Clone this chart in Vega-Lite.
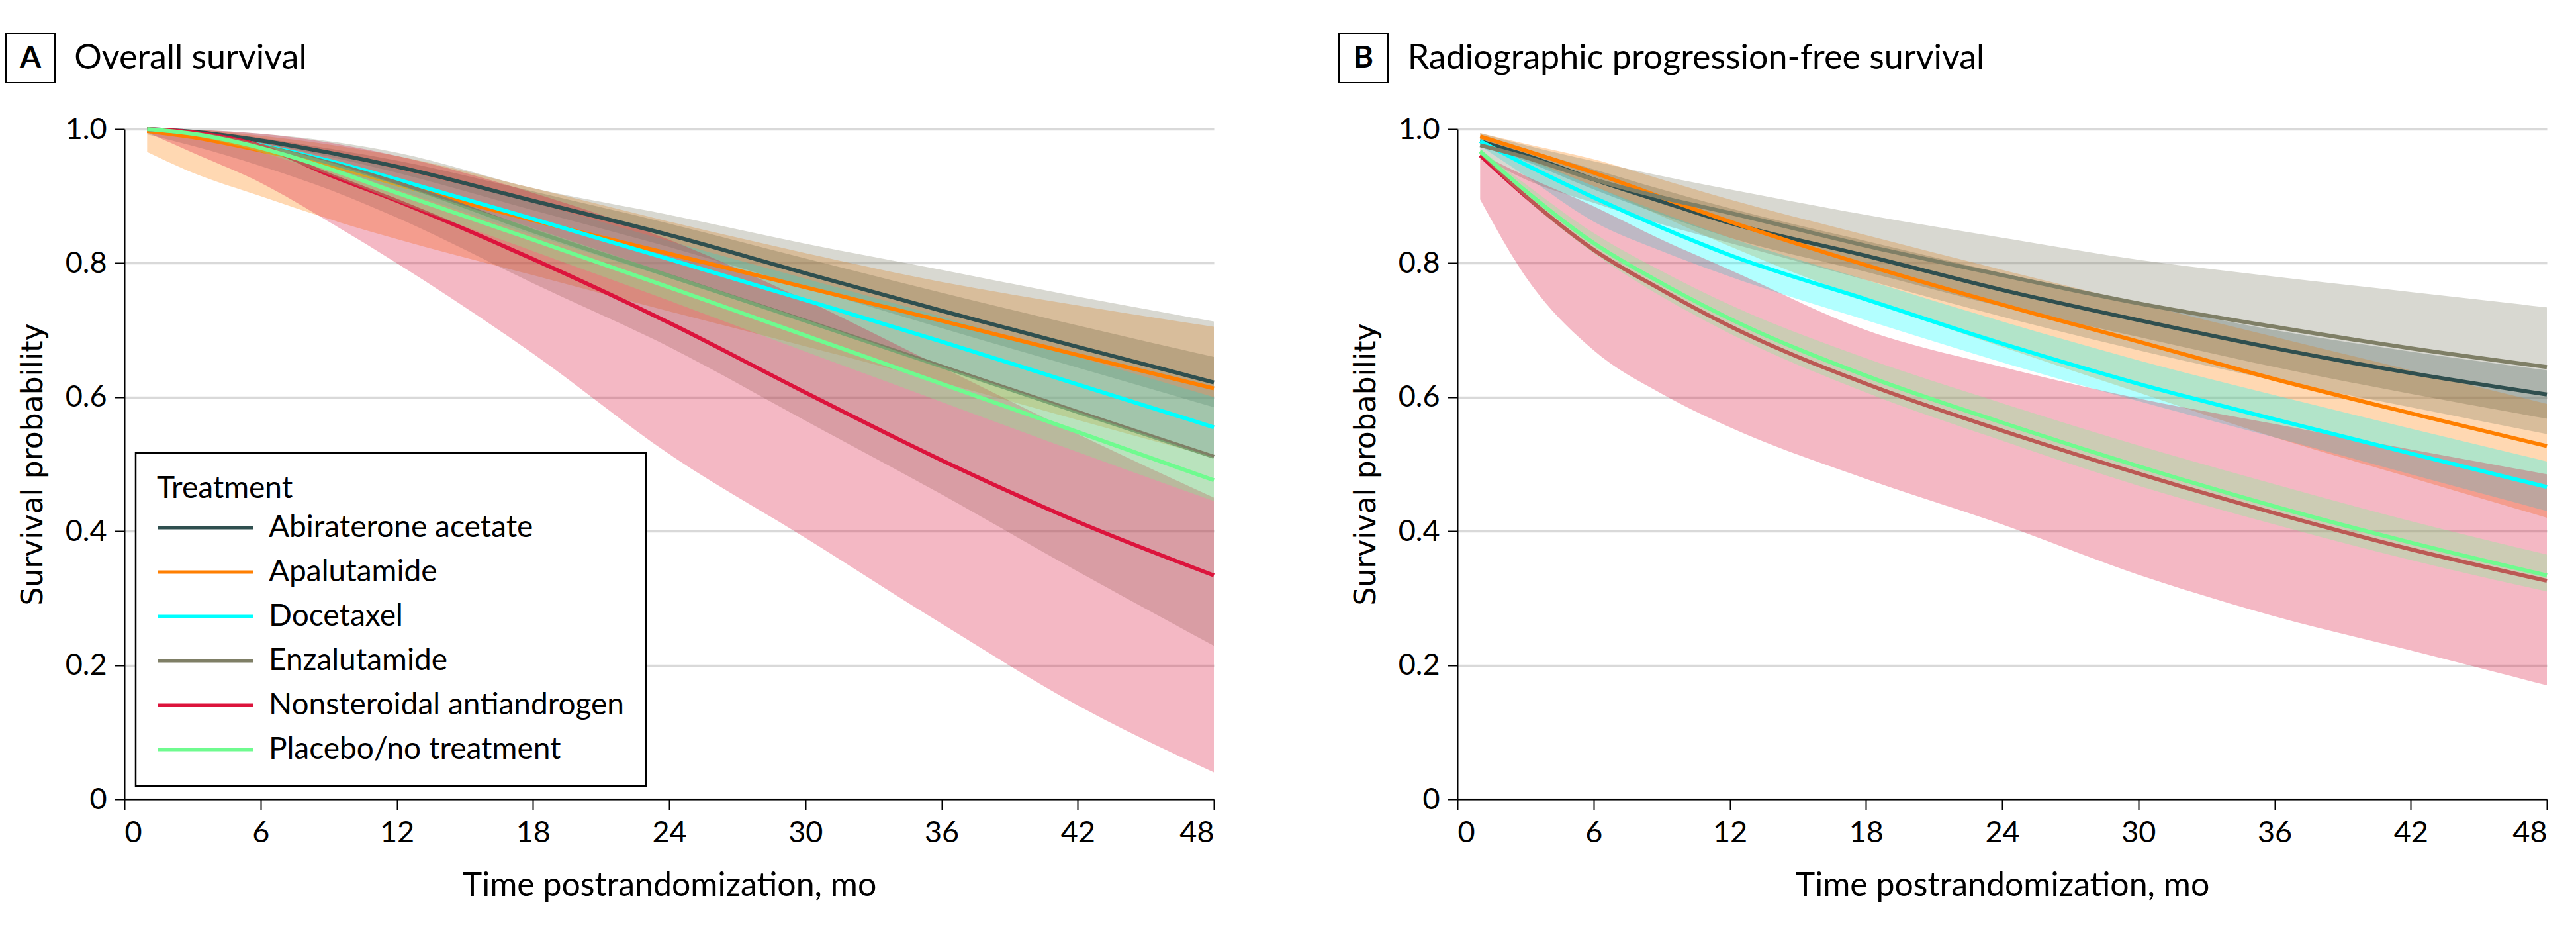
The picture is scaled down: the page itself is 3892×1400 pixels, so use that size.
{
"$schema": "https://vega.github.io/schema/vega-lite/v6.json",
"background": "white",
"padding": {"left": 8, "top": 50, "right": 0, "bottom": 0},
"config": {
  "font": "Lato",
  "view": {"stroke": null},
  "axis": {"domainColor": "black", "domainWidth": 2, "tickColor": "black", "tickWidth": 2, "labelFont": "Lato", "labelFontSize": 45, "labelColor": "black", "titleFont": "Lato", "titleFontSize": 50, "titleFontWeight": "normal", "titleColor": "black", "gridColor": "#D9D9D9", "gridWidth": 3.5},
  "axisX": {"grid": false, "tickSize": 16, "labelPadding": 12, "titlePadding": 32},
  "axisY": {"grid": true, "tickSize": 15, "labelPadding": 12, "titlePadding": 26, "titleFont": "DejaVu Sans", "titleFontSize": 44},
  "legend": {"fillColor": "white", "strokeColor": "black", "strokeWidth": 2.5, "padding": 32, "labelFont": "Lato", "labelFontSize": 46, "labelColor": "black", "titleFont": "Lato", "titleFontSize": 46, "titleFontWeight": "normal", "titleColor": "black", "labelLimit": 1000, "titleLimit": 1000, "rowPadding": 21, "titlePadding": 12}
},
"datasets": {
"os": [
{"t":1,"treatment":"Abiraterone acetate","est":1.000,"lo":0.999,"hi":1.000},
{"t":3,"treatment":"Abiraterone acetate","est":0.996,"lo":0.994,"hi":0.998},
{"t":6,"treatment":"Abiraterone acetate","est":0.983,"lo":0.979,"hi":0.987},
{"t":9,"treatment":"Abiraterone acetate","est":0.965,"lo":0.959,"hi":0.971},
{"t":12,"treatment":"Abiraterone acetate","est":0.944,"lo":0.935,"hi":0.953},
{"t":18,"treatment":"Abiraterone acetate","est":0.893,"lo":0.879,"hi":0.907},
{"t":24,"treatment":"Abiraterone acetate","est":0.842,"lo":0.824,"hi":0.859},
{"t":30,"treatment":"Abiraterone acetate","est":0.785,"lo":0.764,"hi":0.807},
{"t":36,"treatment":"Abiraterone acetate","est":0.729,"lo":0.703,"hi":0.756},
{"t":42,"treatment":"Abiraterone acetate","est":0.675,"lo":0.644,"hi":0.707},
{"t":48,"treatment":"Abiraterone acetate","est":0.622,"lo":0.585,"hi":0.660},
{"t":1,"treatment":"Apalutamide","est":0.997,"lo":0.966,"hi":1.000},
{"t":3,"treatment":"Apalutamide","est":0.988,"lo":0.935,"hi":0.999},
{"t":6,"treatment":"Apalutamide","est":0.968,"lo":0.900,"hi":0.990},
{"t":9,"treatment":"Apalutamide","est":0.946,"lo":0.866,"hi":0.977},
{"t":12,"treatment":"Apalutamide","est":0.918,"lo":0.836,"hi":0.960},
{"t":18,"treatment":"Apalutamide","est":0.864,"lo":0.782,"hi":0.912},
{"t":24,"treatment":"Apalutamide","est":0.814,"lo":0.728,"hi":0.862},
{"t":30,"treatment":"Apalutamide","est":0.764,"lo":0.676,"hi":0.815},
{"t":36,"treatment":"Apalutamide","est":0.714,"lo":0.622,"hi":0.772},
{"t":42,"treatment":"Apalutamide","est":0.663,"lo":0.566,"hi":0.737},
{"t":48,"treatment":"Apalutamide","est":0.613,"lo":0.510,"hi":0.705},
{"t":1,"treatment":"Docetaxel","est":1.000,"lo":0.999,"hi":1.000},
{"t":3,"treatment":"Docetaxel","est":0.994,"lo":0.991,"hi":0.997},
{"t":6,"treatment":"Docetaxel","est":0.976,"lo":0.970,"hi":0.982},
{"t":9,"treatment":"Docetaxel","est":0.953,"lo":0.943,"hi":0.963},
{"t":12,"treatment":"Docetaxel","est":0.925,"lo":0.910,"hi":0.940},
{"t":18,"treatment":"Docetaxel","est":0.866,"lo":0.842,"hi":0.890},
{"t":24,"treatment":"Docetaxel","est":0.806,"lo":0.778,"hi":0.833},
{"t":30,"treatment":"Docetaxel","est":0.745,"lo":0.713,"hi":0.777},
{"t":36,"treatment":"Docetaxel","est":0.683,"lo":0.645,"hi":0.720},
{"t":42,"treatment":"Docetaxel","est":0.619,"lo":0.577,"hi":0.660},
{"t":48,"treatment":"Docetaxel","est":0.555,"lo":0.510,"hi":0.600},
{"t":1,"treatment":"Enzalutamide","est":1.000,"lo":0.992,"hi":1.000},
{"t":3,"treatment":"Enzalutamide","est":0.994,"lo":0.975,"hi":0.999},
{"t":6,"treatment":"Enzalutamide","est":0.975,"lo":0.945,"hi":0.993},
{"t":9,"treatment":"Enzalutamide","est":0.950,"lo":0.910,"hi":0.982},
{"t":12,"treatment":"Enzalutamide","est":0.920,"lo":0.868,"hi":0.965},
{"t":18,"treatment":"Enzalutamide","est":0.848,"lo":0.770,"hi":0.912},
{"t":24,"treatment":"Enzalutamide","est":0.781,"lo":0.675,"hi":0.872},
{"t":30,"treatment":"Enzalutamide","est":0.714,"lo":0.565,"hi":0.829},
{"t":36,"treatment":"Enzalutamide","est":0.646,"lo":0.455,"hi":0.790},
{"t":42,"treatment":"Enzalutamide","est":0.578,"lo":0.340,"hi":0.750},
{"t":48,"treatment":"Enzalutamide","est":0.511,"lo":0.229,"hi":0.713},
{"t":1,"treatment":"Nonsteroidal antiandrogen","est":1.000,"lo":0.995,"hi":1.000},
{"t":3,"treatment":"Nonsteroidal antiandrogen","est":0.995,"lo":0.965,"hi":0.999},
{"t":6,"treatment":"Nonsteroidal antiandrogen","est":0.975,"lo":0.920,"hi":0.993},
{"t":9,"treatment":"Nonsteroidal antiandrogen","est":0.932,"lo":0.862,"hi":0.980},
{"t":12,"treatment":"Nonsteroidal antiandrogen","est":0.893,"lo":0.800,"hi":0.960},
{"t":18,"treatment":"Nonsteroidal antiandrogen","est":0.806,"lo":0.665,"hi":0.905},
{"t":24,"treatment":"Nonsteroidal antiandrogen","est":0.711,"lo":0.515,"hi":0.835},
{"t":30,"treatment":"Nonsteroidal antiandrogen","est":0.607,"lo":0.390,"hi":0.745},
{"t":36,"treatment":"Nonsteroidal antiandrogen","est":0.506,"lo":0.262,"hi":0.645},
{"t":42,"treatment":"Nonsteroidal antiandrogen","est":0.414,"lo":0.140,"hi":0.545},
{"t":48,"treatment":"Nonsteroidal antiandrogen","est":0.334,"lo":0.040,"hi":0.450},
{"t":1,"treatment":"Placebo/no treatment","est":1.000,"lo":0.999,"hi":1.000},
{"t":3,"treatment":"Placebo/no treatment","est":0.993,"lo":0.990,"hi":0.996},
{"t":6,"treatment":"Placebo/no treatment","est":0.972,"lo":0.966,"hi":0.978},
{"t":9,"treatment":"Placebo/no treatment","est":0.941,"lo":0.932,"hi":0.951},
{"t":12,"treatment":"Placebo/no treatment","est":0.905,"lo":0.892,"hi":0.918},
{"t":18,"treatment":"Placebo/no treatment","est":0.835,"lo":0.818,"hi":0.852},
{"t":24,"treatment":"Placebo/no treatment","est":0.764,"lo":0.744,"hi":0.784},
{"t":30,"treatment":"Placebo/no treatment","est":0.692,"lo":0.668,"hi":0.716},
{"t":36,"treatment":"Placebo/no treatment","est":0.620,"lo":0.593,"hi":0.646},
{"t":42,"treatment":"Placebo/no treatment","est":0.548,"lo":0.518,"hi":0.578},
{"t":48,"treatment":"Placebo/no treatment","est":0.476,"lo":0.445,"hi":0.510}
],
"pfs": [
{"t":1,"treatment":"Abiraterone acetate","est":0.982,"lo":0.977,"hi":0.986},
{"t":3,"treatment":"Abiraterone acetate","est":0.961,"lo":0.952,"hi":0.969},
{"t":6,"treatment":"Abiraterone acetate","est":0.925,"lo":0.910,"hi":0.940},
{"t":9,"treatment":"Abiraterone acetate","est":0.892,"lo":0.872,"hi":0.910},
{"t":12,"treatment":"Abiraterone acetate","est":0.860,"lo":0.838,"hi":0.882},
{"t":18,"treatment":"Abiraterone acetate","est":0.811,"lo":0.787,"hi":0.833},
{"t":24,"treatment":"Abiraterone acetate","est":0.760,"lo":0.735,"hi":0.785},
{"t":30,"treatment":"Abiraterone acetate","est":0.715,"lo":0.690,"hi":0.740},
{"t":36,"treatment":"Abiraterone acetate","est":0.673,"lo":0.645,"hi":0.700},
{"t":42,"treatment":"Abiraterone acetate","est":0.636,"lo":0.605,"hi":0.668},
{"t":48,"treatment":"Abiraterone acetate","est":0.604,"lo":0.568,"hi":0.640},
{"t":1,"treatment":"Apalutamide","est":0.989,"lo":0.985,"hi":0.994},
{"t":3,"treatment":"Apalutamide","est":0.968,"lo":0.955,"hi":0.978},
{"t":6,"treatment":"Apalutamide","est":0.935,"lo":0.915,"hi":0.955},
{"t":9,"treatment":"Apalutamide","est":0.898,"lo":0.870,"hi":0.925},
{"t":12,"treatment":"Apalutamide","est":0.862,"lo":0.825,"hi":0.895},
{"t":18,"treatment":"Apalutamide","est":0.797,"lo":0.745,"hi":0.842},
{"t":24,"treatment":"Apalutamide","est":0.738,"lo":0.675,"hi":0.790},
{"t":30,"treatment":"Apalutamide","est":0.683,"lo":0.607,"hi":0.740},
{"t":36,"treatment":"Apalutamide","est":0.627,"lo":0.540,"hi":0.690},
{"t":42,"treatment":"Apalutamide","est":0.576,"lo":0.480,"hi":0.640},
{"t":48,"treatment":"Apalutamide","est":0.527,"lo":0.420,"hi":0.590},
{"t":1,"treatment":"Docetaxel","est":0.982,"lo":0.975,"hi":0.986},
{"t":3,"treatment":"Docetaxel","est":0.947,"lo":0.930,"hi":0.958},
{"t":6,"treatment":"Docetaxel","est":0.898,"lo":0.862,"hi":0.915},
{"t":9,"treatment":"Docetaxel","est":0.853,"lo":0.818,"hi":0.875},
{"t":12,"treatment":"Docetaxel","est":0.812,"lo":0.780,"hi":0.838},
{"t":18,"treatment":"Docetaxel","est":0.746,"lo":0.715,"hi":0.775},
{"t":24,"treatment":"Docetaxel","est":0.680,"lo":0.652,"hi":0.713},
{"t":30,"treatment":"Docetaxel","est":0.620,"lo":0.594,"hi":0.655},
{"t":36,"treatment":"Docetaxel","est":0.567,"lo":0.540,"hi":0.603},
{"t":42,"treatment":"Docetaxel","est":0.516,"lo":0.485,"hi":0.553},
{"t":48,"treatment":"Docetaxel","est":0.466,"lo":0.430,"hi":0.504},
{"t":1,"treatment":"Enzalutamide","est":0.976,"lo":0.960,"hi":0.994},
{"t":3,"treatment":"Enzalutamide","est":0.958,"lo":0.925,"hi":0.976},
{"t":6,"treatment":"Enzalutamide","est":0.925,"lo":0.890,"hi":0.952},
{"t":9,"treatment":"Enzalutamide","est":0.898,"lo":0.858,"hi":0.930},
{"t":12,"treatment":"Enzalutamide","est":0.875,"lo":0.830,"hi":0.910},
{"t":18,"treatment":"Enzalutamide","est":0.826,"lo":0.775,"hi":0.872},
{"t":24,"treatment":"Enzalutamide","est":0.782,"lo":0.720,"hi":0.838},
{"t":30,"treatment":"Enzalutamide","est":0.740,"lo":0.670,"hi":0.805},
{"t":36,"treatment":"Enzalutamide","est":0.705,"lo":0.625,"hi":0.780},
{"t":42,"treatment":"Enzalutamide","est":0.673,"lo":0.585,"hi":0.757},
{"t":48,"treatment":"Enzalutamide","est":0.645,"lo":0.545,"hi":0.734},
{"t":1,"treatment":"Nonsteroidal antiandrogen","est":0.961,"lo":0.895,"hi":0.963},
{"t":3,"treatment":"Nonsteroidal antiandrogen","est":0.900,"lo":0.780,"hi":0.930},
{"t":6,"treatment":"Nonsteroidal antiandrogen","est":0.820,"lo":0.670,"hi":0.885},
{"t":9,"treatment":"Nonsteroidal antiandrogen","est":0.760,"lo":0.605,"hi":0.835},
{"t":12,"treatment":"Nonsteroidal antiandrogen","est":0.706,"lo":0.555,"hi":0.790},
{"t":18,"treatment":"Nonsteroidal antiandrogen","est":0.620,"lo":0.478,"hi":0.700},
{"t":24,"treatment":"Nonsteroidal antiandrogen","est":0.550,"lo":0.410,"hi":0.645},
{"t":30,"treatment":"Nonsteroidal antiandrogen","est":0.486,"lo":0.335,"hi":0.598},
{"t":36,"treatment":"Nonsteroidal antiandrogen","est":0.427,"lo":0.273,"hi":0.560},
{"t":42,"treatment":"Nonsteroidal antiandrogen","est":0.373,"lo":0.222,"hi":0.522},
{"t":48,"treatment":"Nonsteroidal antiandrogen","est":0.326,"lo":0.170,"hi":0.485},
{"t":1,"treatment":"Placebo/no treatment","est":0.967,"lo":0.962,"hi":0.970},
{"t":3,"treatment":"Placebo/no treatment","est":0.908,"lo":0.897,"hi":0.918},
{"t":6,"treatment":"Placebo/no treatment","est":0.830,"lo":0.815,"hi":0.845},
{"t":9,"treatment":"Placebo/no treatment","est":0.770,"lo":0.750,"hi":0.788},
{"t":12,"treatment":"Placebo/no treatment","est":0.717,"lo":0.695,"hi":0.738},
{"t":18,"treatment":"Placebo/no treatment","est":0.632,"lo":0.607,"hi":0.658},
{"t":24,"treatment":"Placebo/no treatment","est":0.562,"lo":0.535,"hi":0.591},
{"t":30,"treatment":"Placebo/no treatment","est":0.497,"lo":0.468,"hi":0.528},
{"t":36,"treatment":"Placebo/no treatment","est":0.437,"lo":0.410,"hi":0.470},
{"t":42,"treatment":"Placebo/no treatment","est":0.383,"lo":0.357,"hi":0.415},
{"t":48,"treatment":"Placebo/no treatment","est":0.334,"lo":0.310,"hi":0.365}
]
},
"hconcat": [
{
  "vconcat": [
    {
      "hconcat": [
        {
          "width": 74, "height": 74,
          "data": {"values": [{"panel": "A"}]},
          "mark": {"type": "text", "font": "Lato", "fontSize": 46, "fontWeight": "bold", "color": "black", "align": "center", "baseline": "middle"},
          "encoding": {"text": {"field": "panel"}},
          "view": {"stroke": "black", "strokeWidth": 2}
        },
        {
          "width": 348, "height": 74,
          "data": {"values": [{"heading": "Overall survival"}]},
          "mark": {"type": "text", "font": "Lato", "fontSize": 52, "color": "black", "align": "center", "baseline": "middle"},
          "encoding": {"text": {"field": "heading"}}
        }
      ],
      "spacing": 28
    },
    {
      "hconcat": [
        {
          "width": 1, "height": 10,
          "data": {"values": [{"blank": ""}]},
          "mark": {"type": "text"},
          "encoding": {"text": {"field": "blank"}}
        },
        {
          "width": 1646, "height": 1012,
          "data": {"name": "os"},
          "encoding": {
            "x": {"field": "t", "type": "quantitative", "scale": {"domain": [0, 48], "nice": false}, "axis": {"values": [0,6,12,18,24,30,36,42,48], "title": "Time postrandomization, mo"}},
            "y": {"type": "quantitative"}
          },
          "layer": [
            {"transform": [{"filter": "datum.treatment !== 'Placebo/no treatment'"}],
             "mark": {"type": "area", "opacity": 0.3, "interpolate": "monotone"},
             "encoding": {
               "y": {"field": "lo", "type": "quantitative", "scale": {"domain": [0, 1], "nice": false}, "axis": {"values": [0,0.2,0.4,0.6,0.8,1], "labelExpr": "datum.value === 0 ? '0' : format(datum.value, '.1f')", "title": "Survival probability"}},
               "y2": {"field": "hi"},
               "fill": {"field": "treatment", "type": "nominal", "scale": {"domain": ["Placebo/no treatment","Nonsteroidal antiandrogen","Enzalutamide","Docetaxel","Apalutamide","Abiraterone acetate"], "range": ["#6FFB8F","#DC143C","#7F7F66","#00FFFF","#FF7F00","#2F4F4F"]}, "legend": null}
             }},
            {"transform": [{"filter": "datum.treatment !== 'Placebo/no treatment'"}],
             "mark": {"type": "line", "strokeWidth": 6, "interpolate": "monotone"},
             "encoding": {
               "y": {"field": "est", "type": "quantitative"},
               "stroke": {"field": "treatment", "type": "nominal", "scale": {"domain": ["Abiraterone acetate","Apalutamide","Docetaxel","Enzalutamide","Nonsteroidal antiandrogen","Placebo/no treatment"], "range": ["#2F4F4F","#FF7F00","#00FFFF","#7F7F66","#DC143C","#6FFB8F"]},
                 "legend": {"title": "Treatment", "orient": "none", "legendX": 17, "legendY": 489, "symbolType": "M-2.2,0H12.3", "symbolSize": 400, "symbolStrokeWidth": 5, "labelOffset": 123}}
             }},
            {"transform": [{"filter": "datum.treatment === 'Placebo/no treatment'"}],
             "mark": {"type": "area", "opacity": 0.3, "interpolate": "monotone"},
             "encoding": {
               "y": {"field": "lo", "type": "quantitative"},
               "y2": {"field": "hi"},
               "fill": {"field": "treatment", "type": "nominal", "legend": null}
             }},
            {"transform": [{"filter": "datum.treatment === 'Placebo/no treatment'"}],
             "mark": {"type": "line", "strokeWidth": 6, "interpolate": "monotone"},
             "encoding": {
               "y": {"field": "est", "type": "quantitative"},
               "stroke": {"field": "treatment", "type": "nominal"}
             }}
          ]
        }
      ],
      "spacing": 18,
      "resolve": {"scale": {"stroke": "independent", "fill": "independent"}}
    }
  ],
  "spacing": 47,
  "resolve": {"scale": {"stroke": "independent", "fill": "independent"}}
},
{
  "vconcat": [
    {
      "hconcat": [
        {
          "width": 74, "height": 74,
          "data": {"values": [{"panel": "B"}]},
          "mark": {"type": "text", "font": "Lato", "fontSize": 46, "fontWeight": "bold", "color": "black", "align": "center", "baseline": "middle"},
          "encoding": {"text": {"field": "panel"}},
          "view": {"stroke": "black", "strokeWidth": 2}
        },
        {
          "width": 853, "height": 74,
          "data": {"values": [{"heading": "Radiographic progression-free survival"}]},
          "mark": {"type": "text", "font": "Lato", "fontSize": 52, "color": "black", "align": "center", "baseline": "middle"},
          "encoding": {"text": {"field": "heading"}}
        }
      ],
      "spacing": 28
    },
    {
      "hconcat": [
        {
          "width": 1, "height": 10,
          "data": {"values": [{"blank": ""}]},
          "mark": {"type": "text"},
          "encoding": {"text": {"field": "blank"}}
        },
        {
          "width": 1646, "height": 1012,
          "data": {"name": "pfs"},
          "encoding": {
            "x": {"field": "t", "type": "quantitative", "scale": {"domain": [0, 48], "nice": false}, "axis": {"values": [0,6,12,18,24,30,36,42,48], "title": "Time postrandomization, mo"}},
            "y": {"type": "quantitative"}
          },
          "layer": [
            {"transform": [{"filter": "datum.treatment !== 'Placebo/no treatment'"}],
             "mark": {"type": "area", "opacity": 0.3, "interpolate": "monotone"},
             "encoding": {
               "y": {"field": "lo", "type": "quantitative", "scale": {"domain": [0, 1], "nice": false}, "axis": {"values": [0,0.2,0.4,0.6,0.8,1], "labelExpr": "datum.value === 0 ? '0' : format(datum.value, '.1f')", "title": "Survival probability"}},
               "y2": {"field": "hi"},
               "fill": {"field": "treatment", "type": "nominal", "scale": {"domain": ["Placebo/no treatment","Nonsteroidal antiandrogen","Enzalutamide","Docetaxel","Apalutamide","Abiraterone acetate"], "range": ["#6FFB8F","#DC143C","#7F7F66","#00FFFF","#FF7F00","#2F4F4F"]}, "legend": null}
             }},
            {"transform": [{"filter": "datum.treatment !== 'Placebo/no treatment'"}],
             "mark": {"type": "line", "strokeWidth": 6, "interpolate": "monotone"},
             "encoding": {
               "y": {"field": "est", "type": "quantitative"},
               "stroke": {"field": "treatment", "type": "nominal", "scale": {"domain": ["Abiraterone acetate","Apalutamide","Docetaxel","Enzalutamide","Nonsteroidal antiandrogen","Placebo/no treatment"], "range": ["#2F4F4F","#FF7F00","#00FFFF","#7F7F66","#DC143C","#6FFB8F"]}, "legend": null}
             }},
            {"transform": [{"filter": "datum.treatment === 'Placebo/no treatment'"}],
             "mark": {"type": "area", "opacity": 0.3, "interpolate": "monotone"},
             "encoding": {
               "y": {"field": "lo", "type": "quantitative"},
               "y2": {"field": "hi"},
               "fill": {"field": "treatment", "type": "nominal", "legend": null}
             }},
            {"transform": [{"filter": "datum.treatment === 'Placebo/no treatment'"}],
             "mark": {"type": "line", "strokeWidth": 6, "interpolate": "monotone"},
             "encoding": {
               "y": {"field": "est", "type": "quantitative"},
               "stroke": {"field": "treatment", "type": "nominal", "legend": null}
             }}
          ]
        }
      ],
      "spacing": 18,
      "resolve": {"scale": {"stroke": "independent", "fill": "independent"}}
    }
  ],
  "spacing": 47,
  "resolve": {"scale": {"stroke": "independent", "fill": "independent"}}
}
],
"spacing": 176,
"resolve": {"scale": {"stroke": "independent", "fill": "independent"}}
}
